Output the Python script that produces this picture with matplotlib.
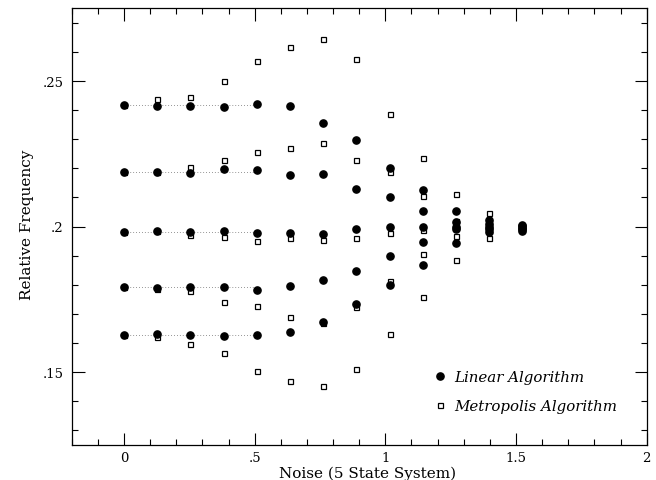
import matplotlib
matplotlib.use("Agg")
import matplotlib.pyplot as plt
from matplotlib.ticker import MultipleLocator, FuncFormatter

# noise values of the 13 runs
noise = [0.0, 0.127, 0.254, 0.381, 0.508, 0.635, 0.762, 0.889,
         1.016, 1.143, 1.270, 1.397, 1.524]

# relative frequency of each of the 5 states, one list per noise value
linear = [
    [0.2419, 0.2189, 0.1980, 0.1793, 0.1626],
    [0.2415, 0.2186, 0.1986, 0.1788, 0.1630],
    [0.2415, 0.2184, 0.1981, 0.1791, 0.1627],
    [0.2410, 0.2196, 0.1984, 0.1791, 0.1623],
    [0.2420, 0.2193, 0.1979, 0.1783, 0.1628],
    [0.2414, 0.2177, 0.1977, 0.1794, 0.1638],
    [0.2355, 0.2180, 0.1975, 0.1816, 0.1673],
    [0.2296, 0.2128, 0.1992, 0.1847, 0.1732],
    [0.2201, 0.2101, 0.1998, 0.1900, 0.1800],
    [0.2124, 0.2052, 0.2000, 0.1946, 0.1868],
    [0.2052, 0.2015, 0.1998, 0.1990, 0.1945],
    [0.2021, 0.2010, 0.2000, 0.1990, 0.1980],
    [0.2006, 0.2001, 0.1996, 0.1991, 0.1986],
]

metropolis = [
    [0.2419, 0.2189, 0.1980, 0.1793, 0.1626],
    [0.2437, 0.2188, 0.1984, 0.1785, 0.1619],
    [0.2445, 0.2205, 0.1971, 0.1778, 0.1596],
    [0.2500, 0.2229, 0.1963, 0.1742, 0.1566],
    [0.2570, 0.2256, 0.1950, 0.1726, 0.1503],
    [0.2616, 0.2270, 0.1962, 0.1688, 0.1468],
    [0.2644, 0.2286, 0.1953, 0.1670, 0.1453],
    [0.2575, 0.2227, 0.1962, 0.1722, 0.1510],
    [0.2388, 0.2187, 0.1979, 0.1812, 0.1629],
    [0.2234, 0.2104, 0.1988, 0.1904, 0.1758],
    [0.2111, 0.2020, 0.1998, 0.1968, 0.1885],
    [0.2046, 0.2015, 0.2000, 0.1985, 0.1962],
    [0.2003, 0.1999, 0.1995, 0.1992, 0.1989],
]

# zero-noise levels, drawn as dotted guides over the low noise runs
levels = [0.2419, 0.2189, 0.1980, 0.1793, 0.1626]
guide_end = noise[4]

plt.rcParams['font.family'] = ['DejaVu Serif']

fig = plt.figure(figsize=(6.56, 4.81), dpi=100)
ax = fig.add_axes([71.7 / 656, 35.3 / 481, 575 / 656, 436.4 / 481])

for lv in levels:
    ax.plot([noise[0], guide_end], [lv, lv], color="0.45", lw=0.6,
            linestyle=(0, (1, 2.5)), zorder=1)

for i, x in enumerate(noise):
    ax.plot([x] * len(metropolis[i]), metropolis[i], linestyle="none",
            marker="s", ms=3.6, mfc="white", mec="black", mew=0.9, zorder=2,
            label="Metropolis Algorithm" if i == 0 else None)
    ax.plot([x] * len(linear[i]), linear[i], linestyle="none",
            marker="o", ms=5.2, color="black", zorder=3,
            label="Linear Algorithm" if i == 0 else None)

ax.set_xlim(-0.2, 2.0)
ax.set_ylim(0.125, 0.275)

ax.xaxis.set_major_locator(MultipleLocator(0.5))
ax.xaxis.set_minor_locator(MultipleLocator(0.1))
ax.yaxis.set_major_locator(MultipleLocator(0.05))
ax.yaxis.set_minor_locator(MultipleLocator(0.01))


def short_label(v, pos):
    s = ("%.2f" % v).rstrip("0").rstrip(".")
    if s.startswith("0."):
        s = s[1:]
    if s == "-0":
        s = "0"
    return s


fmt = FuncFormatter(short_label)
ax.xaxis.set_major_formatter(fmt)
ax.yaxis.set_major_formatter(fmt)

ax.tick_params(which="both", direction="in", top=True, right=True,
               width=0.8, labelsize=9.5)
ax.tick_params(which="major", length=9)
ax.tick_params(which="minor", length=4.5)
ax.tick_params(axis="x", pad=4.5)
ax.tick_params(axis="y", pad=6)
for sp in ax.spines.values():
    sp.set_linewidth(0.9)

ax.set_xlabel("Noise (5 State System)", fontsize=11)
ax.set_ylabel("Relative Frequency", fontsize=11)
ax.xaxis.set_label_coords((367.5 - 71.7) / 575, -0.047)
ax.yaxis.set_label_coords(-0.066, (481 - 225 - 35.3) / 436.4)

handles, labels = ax.get_legend_handles_labels()
order = [labels.index("Linear Algorithm"), labels.index("Metropolis Algorithm")]
leg = ax.legend([handles[k] for k in order], [labels[k] for k in order],
                loc="upper left", bbox_to_anchor=(426 / 656, (481 - 364) / 481),
                bbox_transform=fig.transFigure, frameon=False, borderpad=0,
                handlelength=0.8, handletextpad=0.55, labelspacing=0.95,
                prop={"style": "italic", "size": 10.8})

fig.savefig("out.png", dpi=100)
